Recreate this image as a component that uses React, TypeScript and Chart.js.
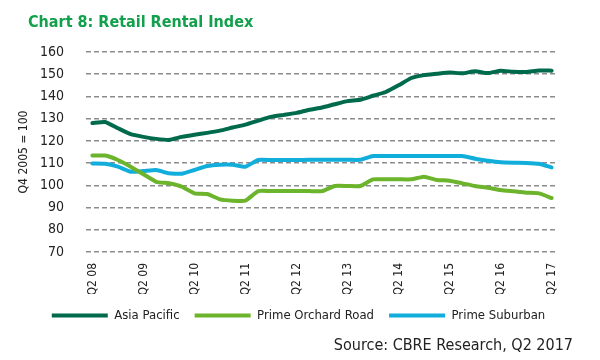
import React, { useEffect, useRef } from "react";
import { Chart, registerables } from "chart.js";

Chart.register(...registerables);

const quarters = [
  "Q2 08", "Q3 08", "Q4 08", "Q1 09", "Q2 09", "Q3 09", "Q4 09", "Q1 10",
  "Q2 10", "Q3 10", "Q4 10", "Q1 11", "Q2 11", "Q3 11", "Q4 11", "Q1 12",
  "Q2 12", "Q3 12", "Q4 12", "Q1 13", "Q2 13", "Q3 13", "Q4 13", "Q1 14",
  "Q2 14", "Q3 14", "Q4 14", "Q1 15", "Q2 15", "Q3 15", "Q4 15", "Q1 16",
  "Q2 16", "Q3 16", "Q4 16", "Q1 17", "Q2 17",
];

const asiaPacific = [
  128, 128.5, 125.7, 123, 121.8, 120.9, 120.4, 121.8, 122.8, 123.6, 124.6, 126,
  127.3, 129.1, 130.8, 131.7, 132.6, 134, 135, 136.5, 137.9, 138.5, 140.3, 142,
  145, 148.3, 149.6, 150.2, 150.8, 150.4, 151.3, 150.5, 151.6, 151.1, 151, 151.7,
  151.6,
];

const primeOrchardRoad = [
  113.4, 113.4, 111.4, 108.4, 105, 101.6, 100.9, 99.4, 96.4, 96.1, 93.7, 93.1,
  93.1, 97.4, 97.4, 97.4, 97.4, 97.4, 97.4, 99.7, 99.7, 99.7, 102.7, 102.7,
  102.7, 102.7, 103.9, 102.4, 102.1, 100.9, 99.7, 98.9, 97.9, 97.3, 96.7, 96.4,
  94.3,
];

const primeSuburban = [
  109.8, 109.7, 108.4, 106.1, 106.4, 106.9, 105.4, 105.2, 106.9, 108.7, 109.3,
  109.3, 108.4, 111.4, 111.4, 111.4, 111.4, 111.5, 111.5, 111.5, 111.5, 111.5,
  113.2, 113.2, 113.2, 113.2, 113.2, 113.2, 113.2, 113.2, 112, 111.1, 110.4,
  110.2, 110.1, 109.7, 108.1,
];

const seriesNames = ["Asia Pacific", "Prime Orchard Road", "Prime Suburban"];
const seriesColors = ["#006a4d", "#6cb42c", "#12aedb"];

const FONT = "'DejaVu Sans Condensed', 'Liberation Sans Narrow', sans-serif";

export default function App() {
  const ref = useRef<HTMLCanvasElement>(null);

  useEffect(() => {
    if (!ref.current) return;
    const values = [asiaPacific, primeOrchardRoad, primeSuburban];
    const chart = new Chart(ref.current, {
      type: "line",
      data: {
        labels: quarters,
        datasets: values.map((d, i) => ({
          label: seriesNames[i],
          data: d,
          borderColor: seriesColors[i],
          backgroundColor: seriesColors[i],
          borderWidth: 4,
          pointRadius: 0,
          pointStyle: "line" as const,
          tension: 0.15,
          borderCapStyle: "round" as const,
          borderJoinStyle: "round" as const,
          yAxisID: "y",
        })),
      },
      options: {
        responsive: false,
        animation: false,
        layout: { padding: { top: 52, left: 0, right: 3, bottom: 28 } },
        plugins: {
          title: { display: false },
          tooltip: { enabled: false },
          legend: {
            position: "bottom",
            labels: {
              usePointStyle: true,
              pointStyle: "line",
              pointStyleWidth: 56,
              boxWidth: 56,
              boxHeight: 4,
              padding: 15,
              color: "#222",
              font: { family: FONT, size: 13 },
            },
          },
        },
        scales: {
          x: {
            offset: true,
            grid: { display: false, drawTicks: false },
            border: { display: false },
            ticks: {
              autoSkip: false,
              maxRotation: 90,
              minRotation: 90,
              padding: 11,
              color: "#222",
              font: { family: FONT, size: 12 },
              callback: (_v: any, i: number) =>
                quarters[i].startsWith("Q2") ? quarters[i] : "",
            },
            afterFit: (s: any) => {
              s.height = 42;
            },
          },
          y: {
            min: 70,
            max: 160,
            ticks: {
              stepSize: 10,
              autoSkip: false,
              padding: 22,
              color: "#222",
              font: { family: FONT, size: 14 },
            },
            grid: { color: "#8c8c8c", lineWidth: 1.5, drawTicks: false },
            border: { display: false, dash: [5, 3] },
            title: {
              display: true,
              text: "Q4 2005 = 100",
              color: "#222",
              font: { family: FONT, size: 12 },
              padding: { top: 17, bottom: 0 },
            },
            afterFit: (s: any) => {
              s.width = 86;
            },
          },
          yRight: {
            position: "right",
            display: true,
            ticks: { display: false },
            grid: { display: false, drawTicks: false },
            border: { display: false },
            afterFit: (s: any) => {
              s.width = 39;
            },
          },
        },
      },
    });
    return () => chart.destroy();
  }, []);

  return (
    <div
      style={{
        position: "fixed",
        left: 0,
        top: 0,
        width: 600,
        height: 360,
        background: "#fff",
      }}
    >
      <canvas
        ref={ref}
        width={600}
        height={360}
        style={{ position: "absolute", left: 0, top: 0, width: 600, height: 360 }}
      />
      <div
        style={{
          position: "absolute",
          left: 28,
          top: 12,
          fontFamily: FONT,
          fontWeight: "bold",
          fontSize: 16,
          color: "#12a04c",
          whiteSpace: "nowrap",
        }}
      >
        Chart 8: Retail Rental Index
      </div>
      <div
        style={{
          position: "absolute",
          right: 27,
          top: 335,
          fontFamily: FONT,
          fontSize: 16,
          color: "#222",
          whiteSpace: "nowrap",
        }}
      >
        Source: CBRE Research, Q2 2017
      </div>
    </div>
  );
}
